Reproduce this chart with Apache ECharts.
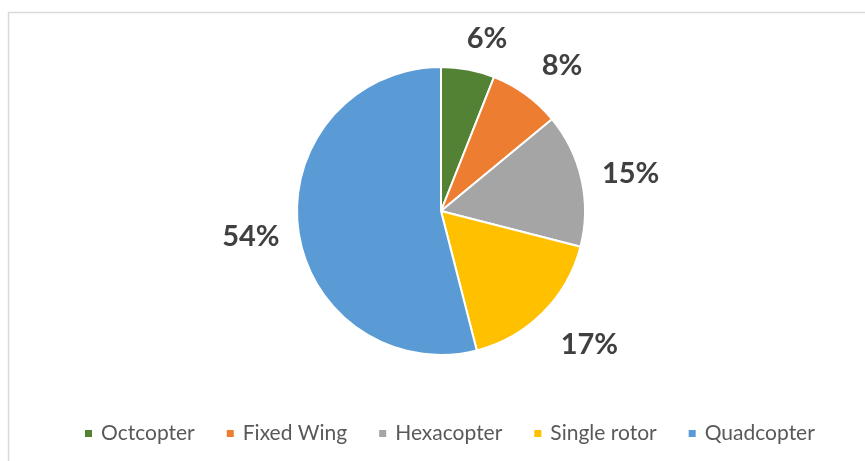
<!DOCTYPE html>
<html><head><meta charset="utf-8">
<script src="https://cdn.jsdelivr.net/npm/echarts@6/dist/echarts.min.js"></script>
<style>html,body{margin:0;padding:0;background:#fff}#c{width:865px;height:461px}</style>
</head><body><div id="c"></div>
<script>
const categories = ['Octcopter', 'Fixed Wing', 'Hexacopter', 'Single rotor', 'Quadcopter'];
const values = [6, 8, 15, 17, 54];
const colors = ['#548235', '#ED7D31', '#A5A5A5', '#FFC000', '#5B9BD5'];
// label offsets (leader length / horizontal run) per slice
const labelLen = [31, 36, 26, 45, 64];
const labelLen2 = [-12, -10, -10, -19, -50];

const chart = echarts.init(document.getElementById('c'));
chart.setOption({
  animation: false,
  color: colors,
  graphic: [{
    type: 'rect', silent: true,
    shape: { x: 8.5, y: 12.5, width: 900, height: 500 },
    style: { fill: 'none', stroke: '#d9d9d9', lineWidth: 1.5 }
  }],
  legend: {
    bottom: 12, left: 78,
    itemWidth: 9, itemHeight: 9, itemGap: 30, icon: 'rect',
    textStyle: { fontFamily: 'Lato', fontSize: 21, color: '#595959', padding: [0, 0, 0, 3] },
    data: categories
  },
  series: [{
    type: 'pie',
    center: [441, 211],
    radius: [0, 144],
    startAngle: 90,
    clockwise: true,
    avoidLabelOverlap: false,
    itemStyle: { borderColor: '#fff', borderWidth: 2 },
    label: {
      show: true, position: 'outside',
      formatter: p => Math.round(p.percent) + '%',
      fontFamily: 'Lato', fontWeight: 'bold', fontSize: 29, color: '#404040'
    },
    labelLine: { show: false },
    data: categories.map((n, i) => ({
      name: n, value: values[i],
      labelLine: { show: false, length: labelLen[i], length2: labelLen2[i] }
    }))
  }]
});
</script></body></html>
